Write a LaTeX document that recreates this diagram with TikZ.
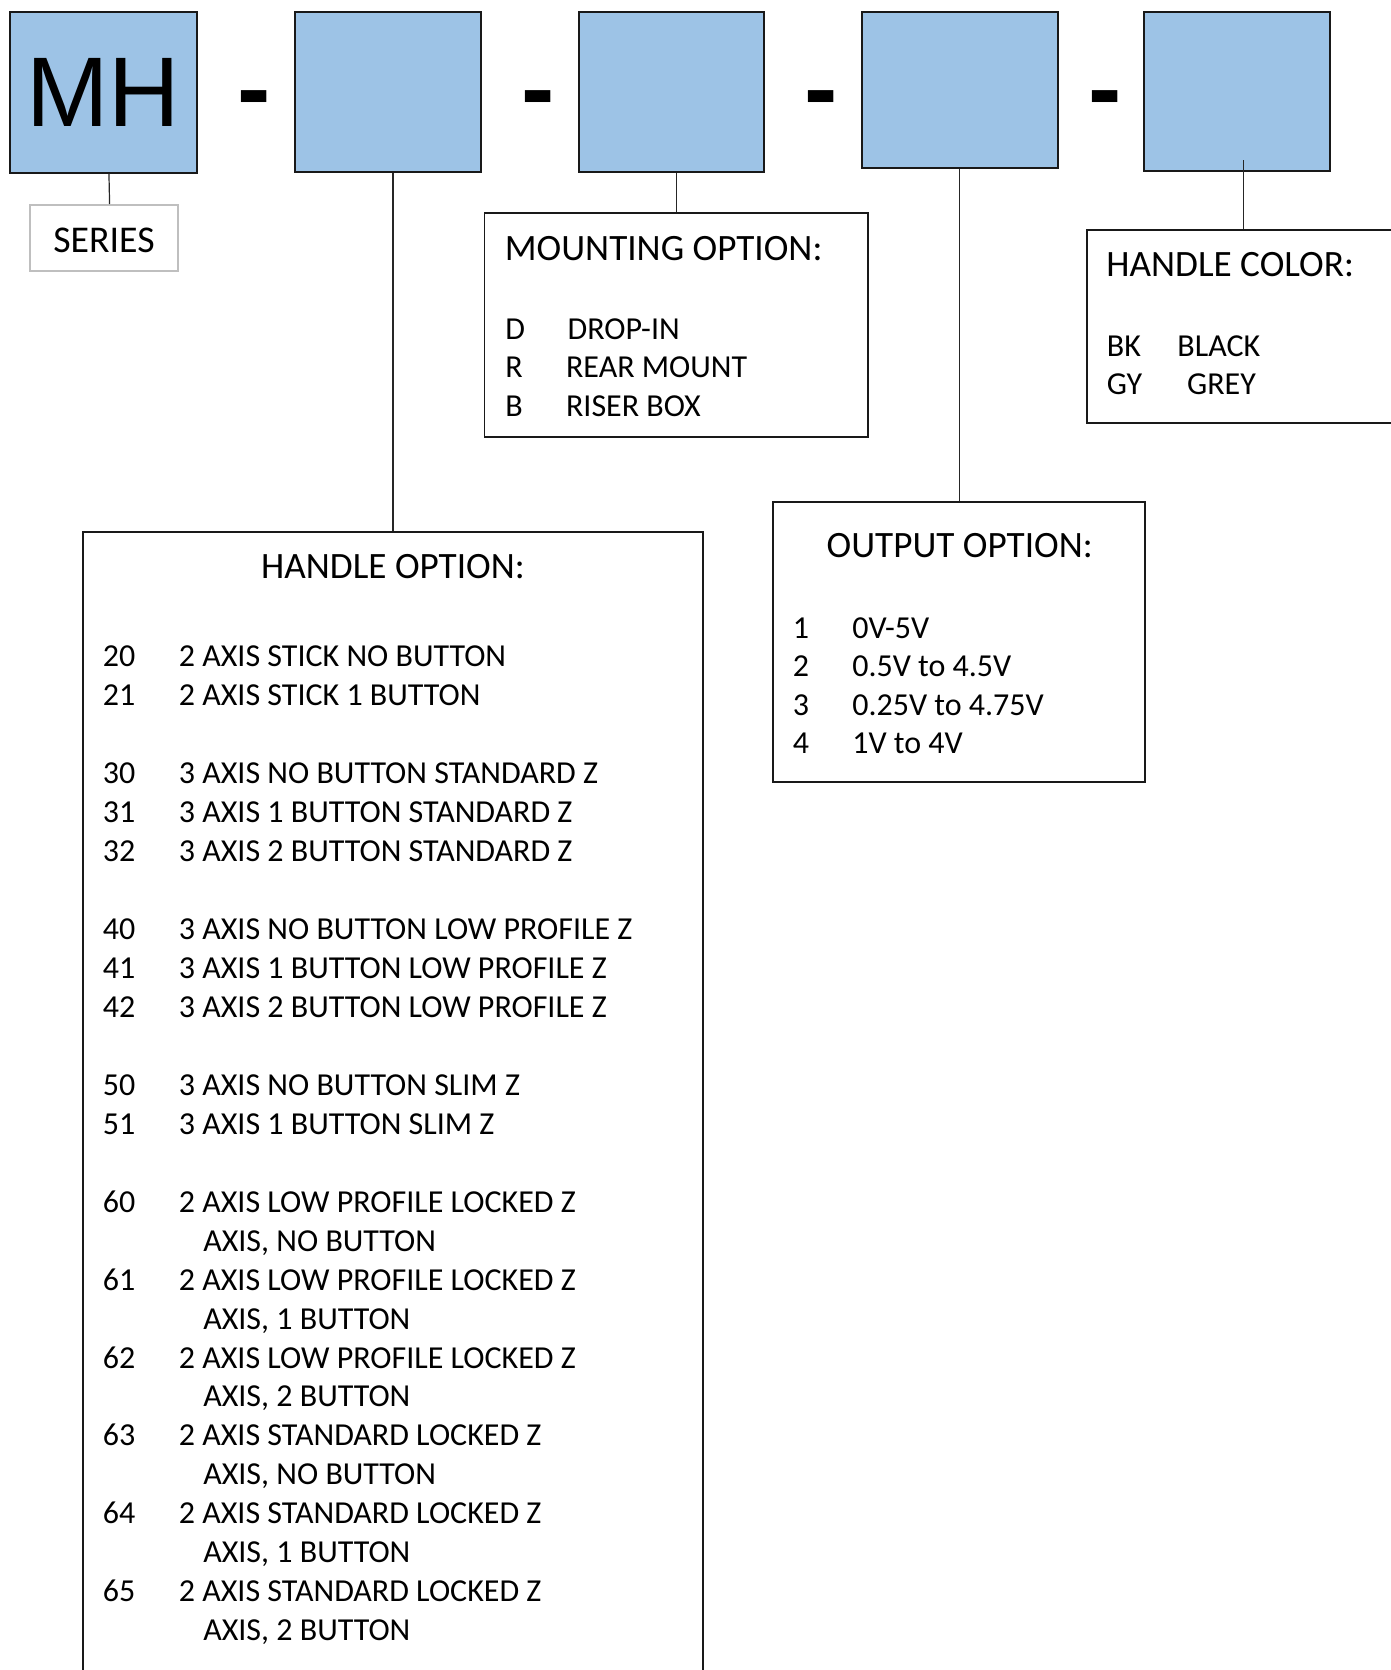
\documentclass[tikz,border=0pt]{standalone}
\usepackage{fontspec}
\setmainfont{Carlito}
\newfontfamily\arialfont{Liberation Sans}
\definecolor{codeblue}{HTML}{9DC3E6}

\begin{document}
\begin{tikzpicture}[x=0.5pt, y=-0.5pt,
  code/.style = {draw=black!90, line width=1pt, fill=codeblue, inner sep=0pt},
  info/.style = {draw=black!90, line width=0.9pt, inner sep=0pt},
  dashmark/.style = {inner sep=0pt, anchor=base, font=\arialfont\bfseries\fontsize{50}{50}\selectfont},
  head/.style = {inner sep=0pt, font=\fontsize{18.6}{22}\selectfont},
  list/.style = {inner sep=0pt, anchor=base west, font=\fontsize{16}{19.2}\selectfont},
  link/.style = {draw=black!85, line width=0.6pt}]
\useasboundingbox (0,0) rectangle (1391,1670);

% part number
\node[code, minimum width=93.55pt, minimum height=80.2pt] (mh) at (103.35,92.5) {\arialfont\fontsize{49.5}{50}\selectfont MH};
\node[code, minimum width=93.1pt, minimum height=79.7pt] (handle) at (387.7,92) {};
\node[code, minimum width=92.65pt, minimum height=79.7pt] (mount) at (671.3,92) {};
\node[code, minimum width=98.15pt, minimum height=77.7pt] (output) at (959.9,90) {};
\node[code, minimum width=93pt, minimum height=79.35pt] (color) at (1237,91.65) {};
\node[dashmark] (d1) at (254,122) {-};
\node[dashmark] (d2) at (538,122) {-};
\node[dashmark] (d3) at (821,122) {-};
\node[dashmark] (d4) at (1104.8,122) {-};

% option boxes
\node[draw=black!25, line width=1pt, inner sep=0pt, minimum width=73.65pt, minimum height=33pt, text height=14.3pt, text depth=0pt, font=\fontsize{18.9}{22}\selectfont] (series) at (104,238) {SERIES\hspace{7.3pt}};
\node[info, minimum width=310pt, minimum height=578.85pt] (handlebox) at (392.95,1111.15) {};
\node[info, minimum width=191.95pt, minimum height=111.85pt] (mountbox) at (676.35,325.15) {};
\node[info, minimum width=185.85pt, minimum height=140pt] (outbox) at (959.15,641.7) {};
\node[info, minimum width=156.6pt, minimum height=96.35pt] (colorbox) at (1243.4,326.35) {};

% handle option
\node[head, anchor=base] (handlehead) at (393,578.5) {HANDLE OPTION:};
\node[list, font=\fontsize{16}{19.475}\selectfont] (handlelist) at (102.5,666.9) {\begin{tabular}[t]{@{}p{38pt}@{}l@{}}
20 & 2 AXIS STICK NO BUTTON\\
21 & 2 AXIS STICK 1 BUTTON\\
 & \\
30 & 3 AXIS NO BUTTON STANDARD Z\\
31 & 3 AXIS 1 BUTTON STANDARD Z\\
32 & 3 AXIS 2 BUTTON STANDARD Z\\
 & \\
40 & 3 AXIS NO BUTTON LOW PROFILE Z\\
41 & 3 AXIS 1 BUTTON LOW PROFILE Z\\
42 & 3 AXIS 2 BUTTON LOW PROFILE Z\\
 & \\
50 & 3 AXIS NO BUTTON SLIM Z\\
51 & 3 AXIS 1 BUTTON SLIM Z\\
 & \\
60 & 2 AXIS LOW PROFILE LOCKED Z\\
 & \hspace{12.2pt}AXIS, NO BUTTON\\
61 & 2 AXIS LOW PROFILE LOCKED Z\\
 & \hspace{12.2pt}AXIS, 1 BUTTON\\
62 & 2 AXIS LOW PROFILE LOCKED Z\\
 & \hspace{12.2pt}AXIS, 2 BUTTON\\
63 & 2 AXIS STANDARD LOCKED Z\\
 & \hspace{12.2pt}AXIS, NO BUTTON\\
64 & 2 AXIS STANDARD LOCKED Z\\
 & \hspace{12.2pt}AXIS, 1 BUTTON\\
65 & 2 AXIS STANDARD LOCKED Z\\
 & \hspace{12.2pt}AXIS, 2 BUTTON
\end{tabular}};

% mounting option
\node[head, anchor=base west] (mounthead) at (504.5,260) {MOUNTING OPTION:};
\node[list, font=\fontsize{16}{19.175}\selectfont] (mountlist) at (505,339.3) {\begin{tabular}[t]{@{}p{30.35pt}@{}l@{}}
D & \hspace{0.8pt}DROP-IN\\
R & REAR MOUNT\\
B & RISER BOX
\end{tabular}};

% output option
\node[head, anchor=base] (outhead) at (959.7,557.3) {OUTPUT OPTION:};
\node[list, font=\fontsize{16}{19.175}\selectfont] (outlist) at (792.5,638.3) {\begin{tabular}[t]{@{}p{29.7pt}@{}l@{}}
1 & 0V-5V\\
2 & 0.5V to 4.5V\\
3 & 0.25V to 4.75V\\
4 & 1V to 4V
\end{tabular}};

% handle color
\node[head, anchor=base west] (colorhead) at (1106,276) {HANDLE COLOR:};
\node[list, font=\fontsize{16}{19.15}\selectfont] (colorlist) at (1106.5,356) {\begin{tabular}[t]{@{}p{35.25pt}@{}l@{}}
BK & BLACK\\
GY & \hspace{4.85pt}GREY
\end{tabular}};

\draw[link] ([xshift=2.8pt]mh.south) -- ([xshift=2.8pt]series.north);
\draw[link] (handlebox.north |- handle.south) -- (handlebox.north);
\draw[link] (mountbox.north |- mount.south) -- (mountbox.north);
\draw[link] (outbox.north |- output.south) -- (outbox.north);
\draw[link] (colorbox.north |- color.south) ++(0,-12) -- (colorbox.north);
\end{tikzpicture}
\end{document}
